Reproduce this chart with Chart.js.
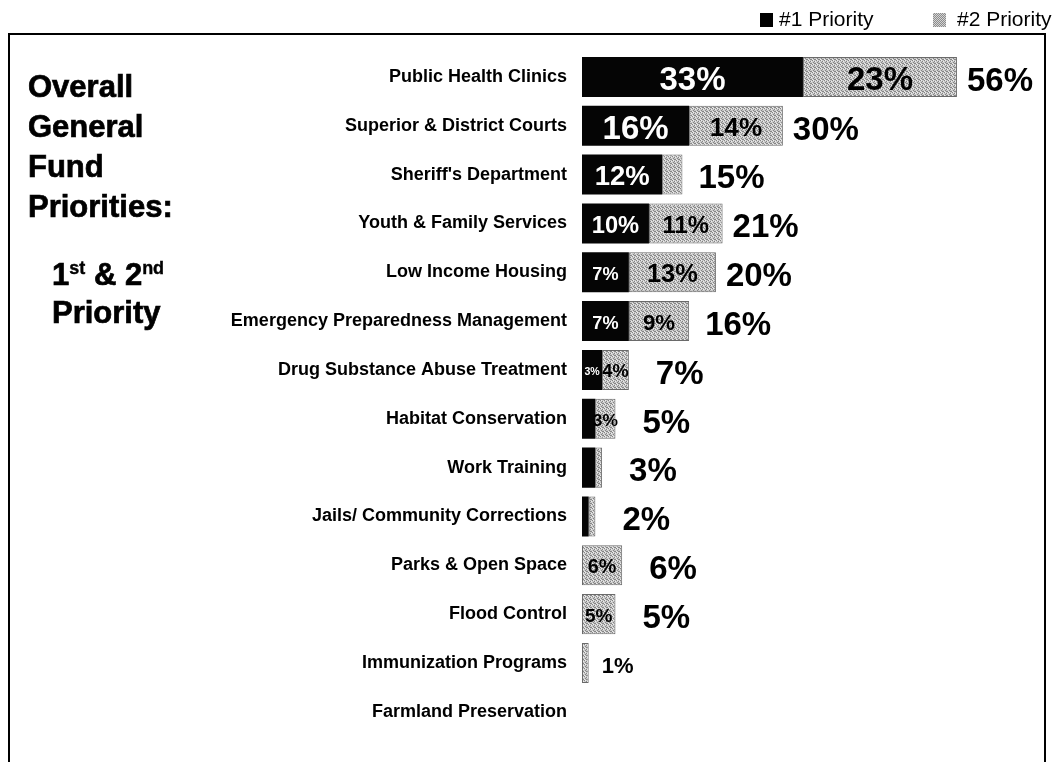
<!DOCTYPE html>
<html>
<head>
<meta charset="utf-8">
<script src="https://cdn.jsdelivr.net/npm/chart.js@4.4.1/dist/chart.umd.min.js"></script>
<style>
  html, body { margin:0; padding:0; background:#fff; }
  body { width:1053px; height:762px; position:relative; overflow:hidden; font-family:"Liberation Sans", Arial, sans-serif; }
  #frame { position:absolute; left:8px; top:33px; width:1038px; height:800px; border:2px solid #000; box-sizing:border-box; }
  #chart { position:absolute; left:0; top:0; }
  .title { position:absolute; font-weight:bold; color:#000; font-size:31px; -webkit-text-stroke:0.7px #000; }
  #t1 { left:28px; top:67px; line-height:40px; }
  #t2 { left:52px; top:258px; line-height:34px; }
  .sup { font-size:18px; position:relative; top:-11px; -webkit-text-stroke:0.4px #000; }
  .leg { position:absolute; top:4px; font-size:21px; line-height:30px; color:#000; white-space:nowrap; }
  .box { position:absolute; top:13px; width:13px; height:14px; }
  #box1 { left:760px; background:#000; }
  #box2 { left:933px; background:repeating-conic-gradient(#8c8c8c 0 25%, #d4d4d4 0 50%) 0 0/2px 2px; }
  #leg1 { left:779px; }
  #leg2 { left:957px; }
</style>
</head>
<body>
<div id="frame"></div>
<canvas id="chart" width="1053" height="762"></canvas>
<div class="title" id="t1">Overall<br>General<br>Fund<br>Priorities:</div>
<div class="title" id="t2">1<span class="sup">st</span> &amp; 2<span class="sup">nd</span><br>Priority</div>
<div class="box" id="box1"></div><div class="leg" id="leg1"></div>
<div class="box" id="box2"></div><div class="leg" id="leg2"></div>
<script>
const categories = [
  "Public Health Clinics",
  "Superior & District Courts",
  "Sheriff's Department",
  "Youth & Family Services",
  "Low Income Housing",
  "Emergency Preparedness Management",
  "Drug Substance Abuse Treatment",
  "Habitat Conservation",
  "Work Training",
  "Jails/ Community Corrections",
  "Parks & Open Space",
  "Flood Control",
  "Immunization Programs",
  "Farmland Preservation"
];
const priority1 = [33, 16, 12, 10, 7, 7, 3, 2, 2, 1, 0, 0, 0, 0];
const priority2 = [23, 14, 3, 11, 13, 9, 4, 3, 1, 1, 6, 5, 1, 0];
const seriesNames = ["#1 Priority", "#2 Priority"];
const unlabelledSegments = [[1, "Sheriff's Department"]];
const xMax = 69;

document.getElementById('leg1').textContent = seriesNames[0];
document.getElementById('leg2').textContent = seriesNames[1];

// dither pattern for #2 priority
const pc = document.createElement('canvas');
pc.width = 4; pc.height = 4;
const pctx = pc.getContext('2d');
pctx.fillStyle = '#c8c8c8'; pctx.fillRect(0,0,4,4);
pctx.fillStyle = '#858585';
[[0,0],[2,1],[1,2],[3,3],[2,3]].forEach(p => pctx.fillRect(p[0],p[1],1,1));
pctx.fillStyle = '#ececec';
[[1,0],[3,1],[0,3]].forEach(p => pctx.fillRect(p[0],p[1],1,1));
const ctxMain = document.getElementById('chart').getContext('2d');
const pattern2 = ctxMain.createPattern(pc, 'repeat');

const FAMILY = '"Liberation Sans", Arial, sans-serif';

const labelPlugin = {
  id: 'segLabels',
  afterDatasetsDraw(chart) {
    const ctx = chart.ctx;
    ctx.save();
    const metas = [chart.getDatasetMeta(0), chart.getDatasetMeta(1)];
    metas.forEach((meta, di) => {
      meta.data.forEach((bar, i) => {
        const v = chart.data.datasets[di].data[i];
        if (v < 3) return;
        if (unlabelledSegments.some(u => u[0] === di && u[1] === chart.data.labels[i])) return;
        const p = bar.getProps(['x', 'base', 'y'], true);
        const w = Math.abs(p.x - p.base);
        const size = di === 0 ? Math.min(33, 5 + 0.28 * w) : Math.min(33, 15 + 0.12 * w);
        ctx.font = 'bold ' + size.toFixed(1) + 'px ' + FAMILY;
        ctx.fillStyle = di === 0 ? '#fff' : '#000';
        ctx.textAlign = 'center';
        ctx.textBaseline = 'alphabetic';
        ctx.fillText(v + '%', (p.x + p.base) / 2, p.y + 0.358 * size + 1);
      });
    });
    metas[1].data.forEach((bar, i) => {
      const total = chart.data.datasets[0].data[i] + chart.data.datasets[1].data[i];
      if (!total) return;
      const a = metas[0].data[i].getProps(['x'], true).x;
      const b = bar.getProps(['x', 'y'], true);
      const end = Math.max(a, b.x);
      const size = total <= 1 ? 22 : 33;
      const gap = total <= 1 ? 13 : total < 10 ? 27 : total < 20 ? 16 : 10;
      ctx.font = 'bold ' + size + 'px ' + FAMILY;
      ctx.fillStyle = '#000';
      ctx.textAlign = 'left';
      ctx.textBaseline = 'alphabetic';
      ctx.fillText(total + '%', end + gap, b.y + 0.358 * size + 2);
    });
    ctx.restore();
  }
};

new Chart(ctxMain, {
  type: 'bar',
  data: {
    labels: categories,
    datasets: [
      { label: seriesNames[0], data: priority1, backgroundColor: '#050505', borderWidth: 0 },
      { label: seriesNames[1], data: priority2, backgroundColor: pattern2, borderColor: '#6a6a6a', borderWidth: 1, borderSkipped: false }
    ]
  },
  options: {
    indexAxis: 'y',
    responsive: false,
    animation: false,
    devicePixelRatio: 1,
    layout: { padding: { left: 0, top: 52.5, right: 1053 - 1044, bottom: 23.5 } },
    categoryPercentage: 1,
    barPercentage: 0.82,
    plugins: { legend: { display: false }, tooltip: { enabled: false } },
    scales: {
      x: { stacked: true, display: false, min: 0, max: xMax },
      y: {
        stacked: true,
        grid: { display: false, drawTicks: false },
        border: { display: false },
        ticks: { color: '#000', padding: 15, font: { family: FAMILY, size: 18, weight: 'bold' } },
        afterFit(scale) { scale.width = 582; }
      }
    }
  },
  plugins: [labelPlugin]
});
</script>
</body>
</html>
